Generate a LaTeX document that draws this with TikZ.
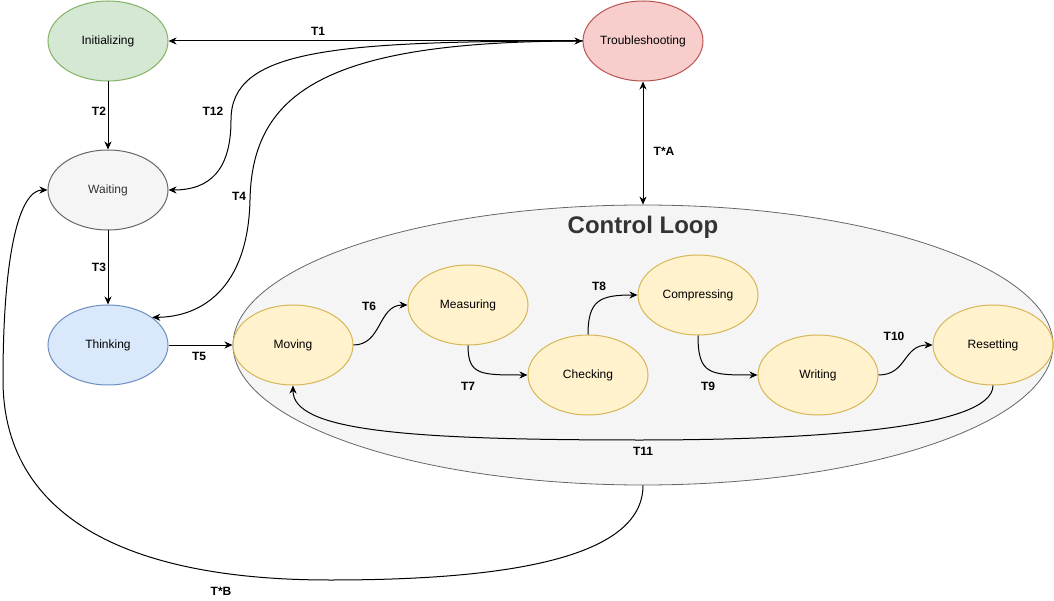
\documentclass[tikz,border=0pt]{standalone}
\usepackage{fontspec}
\setmainfont{Liberation Sans}
\usepackage{tikz}
\usetikzlibrary{shapes.geometric, arrows.meta}
\definecolor{colorInitFill}{HTML}{d5e8d4}
\definecolor{colorInitLine}{HTML}{82b366}
\definecolor{colorWaitFill}{HTML}{f5f5f5}
\definecolor{colorWaitLine}{HTML}{666666}
\definecolor{colorThinkFill}{HTML}{dae8fc}
\definecolor{colorThinkLine}{HTML}{6c8ebf}
\definecolor{colorTroubleFill}{HTML}{f8cecc}
\definecolor{colorTroubleLine}{HTML}{b85450}
\definecolor{colorStepFill}{HTML}{fff2cc}
\definecolor{colorStepLine}{HTML}{d6b656}
\definecolor{colorText}{HTML}{333333}

\tikzset{
    stateNode/.style={ellipse, draw, line width=1pt, minimum width=120pt, minimum height=80pt,
        inner sep=0pt, inner xsep=-12pt, font=\fontsize{12}{14}\selectfont},
    stepNode/.style={stateNode, fill=colorStepFill, draw=colorStepLine},
    transLabel/.style={font=\bfseries\fontsize{12}{14}\selectfont},
    transition/.style={-{Stealth[length=8pt,width=7pt,inset=2.5pt]}, line width=1pt},
    biTransition/.style={{Stealth[length=8pt,width=7pt,inset=2.5pt]}-{Stealth[length=8pt,width=7pt,inset=2.5pt]}, line width=1pt},
}

\begin{document}
\begin{tikzpicture}[x=1pt, y=-1pt]
    \useasboundingbox (0,0) rectangle (1054,601);

    % control loop area
    \node[ellipse, draw=colorWaitLine, fill=colorWaitFill, line width=0.8pt,
        minimum width=820pt, minimum height=280pt, inner sep=0pt] (loop) at (643,345) {};
    \node[font=\bfseries\fontsize{24}{28}\selectfont, text=colorText] (loopTitle) at (643,227) {Control Loop};

    % states
    \node[stateNode, fill=colorInitFill, draw=colorInitLine] (init) at (108,41) {Initializing};
    \node[stateNode, fill=colorWaitFill, draw=colorWaitLine, text=colorText] (wait) at (108,190) {Waiting};
    \node[stateNode, fill=colorThinkFill, draw=colorThinkLine] (think) at (108,345) {Thinking};
    \node[stateNode, fill=colorTroubleFill, draw=colorTroubleLine] (trouble) at (643,41) {Troubleshooting};

    \node[stepNode] (moving) at (293,345) {Moving};
    \node[stepNode] (measuring) at (468,305) {Measuring};
    \node[stepNode] (checking) at (588,375) {Checking};
    \node[stepNode] (compressing) at (698,295) {Compressing};
    \node[stepNode] (writing) at (818,375) {Writing};
    \node[stepNode] (resetting) at (993,345) {Resetting};

    % transitions
    \draw[biTransition] (trouble.west) -- (init.east);
    \draw[transition] (init.south) -- (wait.north);
    \draw[transition] (wait.south) -- (think.north);
    \draw[transition] (think.east) -- (moving.west);
    \draw[transition] (trouble.west) .. controls (330,41) and (231,50) .. (231,120)
        .. controls (231,170) and (210,190) .. (wait.east);
    \draw[transition] (trouble.west) .. controls (330,41) and (252,90) .. (250,200)
        .. controls (248,290) and (200,317) .. (think.32);
    \draw[biTransition] (trouble.south) -- (loop.north);
    \draw[transition] (loop.south) .. controls (643,560) and (500,580) .. (330,580)
        .. controls (100,580) and (3,500) .. (3,380)
        .. controls (3,250) and (20,190) .. (wait.west);

    \draw[transition] (moving.east) .. controls (382,345) and (378,305) .. (measuring.west);
    \draw[transition] (measuring.south) .. controls (468,375) and (480,375) .. (checking.west);
    \draw[transition] (checking.north) .. controls (588,300) and (600,295) .. (compressing.west);
    \draw[transition] (compressing.south) .. controls (698,375) and (710,375) .. (writing.west);
    \draw[transition] (writing.east) .. controls (907,375) and (903,345) .. (resetting.west);
    \draw[transition] (resetting.south) .. controls (993,430) and (800,440) .. (640,440)
        .. controls (400,440) and (293,430) .. (moving.south);

    % labels
    \node[transLabel] (lblT1) at (318,31) {T1};
    \node[transLabel] (lblT2) at (99,111) {T2};
    \node[transLabel] (lblT3) at (99,267) {T3};
    \node[transLabel] (lblT4) at (239,196) {T4};
    \node[transLabel] (lblT5) at (199,356) {T5};
    \node[transLabel] (lblT6) at (369,306) {T6};
    \node[transLabel] (lblT7) at (468,386) {T7};
    \node[transLabel] (lblT8) at (599,286) {T8};
    \node[transLabel] (lblT9) at (708,386) {T9};
    \node[transLabel] (lblT10) at (894,336) {T10};
    \node[transLabel] (lblT11) at (643,451) {T11};
    \node[transLabel] (lblT12) at (213,111) {T12};
    \node[transLabel] (lblTA) at (664,151) {T*A};
    \node[transLabel] (lblTB) at (221,591) {T*B};
\end{tikzpicture}
\end{document}
